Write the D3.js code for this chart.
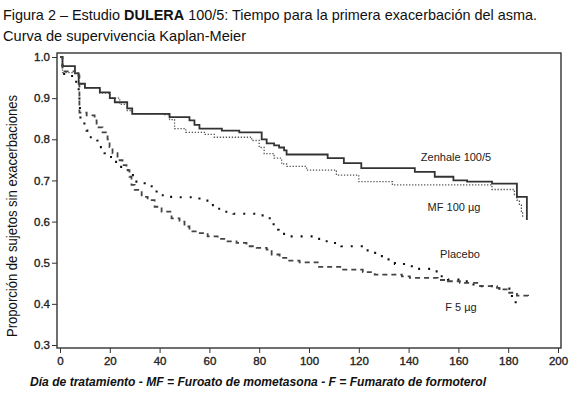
<!DOCTYPE html>
<html>
<head>
<meta charset="utf-8">
<script src="https://cdn.jsdelivr.net/npm/d3@7"></script>
<style>
body { margin: 0; background: #fff; }
svg { display: block; }
</style>
</head>
<body>
<svg width="574" height="396"></svg>
<script>
// Kaplan-Meier steps: day of event, survival after it
var zenDays = [0, 1, 6, 7.5, 10, 16, 20, 22, 27, 29, 44, 52, 54, 56, 65, 72, 81, 83, 86, 88, 90, 91, 107.5, 114, 121, 142.5, 150.5, 158, 163.5, 173.5, 183.5, 187.5]
var zenSurv = [1.0, 0.978, 0.96, 0.935, 0.925, 0.914, 0.90, 0.89, 0.875, 0.862, 0.854, 0.846, 0.835, 0.826, 0.821, 0.817, 0.80, 0.79, 0.785, 0.78, 0.773, 0.763, 0.754, 0.742, 0.73, 0.721, 0.709, 0.70, 0.697, 0.692, 0.66, 0.604]

var mfDays = [0, 1, 7.5, 10, 16, 20, 24, 27, 29, 42, 44, 46, 50.5, 58, 62, 77, 80, 82, 86, 89, 91, 99, 111, 120, 133.5, 173.5, 182.5, 183.5, 184.5, 185.3, 185.8]
var mfSurv = [1.0, 0.962, 0.935, 0.925, 0.912, 0.90, 0.885, 0.87, 0.862, 0.86, 0.848, 0.826, 0.817, 0.812, 0.805, 0.797, 0.78, 0.765, 0.754, 0.74, 0.734, 0.725, 0.713, 0.697, 0.689, 0.678, 0.665, 0.652, 0.64, 0.625, 0.612]

var plaDays = [0, 1, 3, 6.5, 7.5, 7.8, 8, 8.2, 9.8, 10.7, 11.9, 15, 15.9, 17.9, 19.9, 21.9, 23.9, 26.7, 27.9, 30.7, 34, 36.8, 38.8, 44, 48, 56, 59.7, 62.1, 65.7, 69.7, 79.4, 83, 85, 85.8, 87.8, 91.8, 101.5, 105.5, 109, 113, 121.2, 124.8, 127.6, 131.2, 134.5, 141.3, 150.5, 151.8, 155.8, 160.6, 164.6, 168.7, 175.5, 181.5, 183, 183.5]
var plaSurv = [1.0, 0.959, 0.954, 0.935, 0.906, 0.89, 0.865, 0.85, 0.833, 0.821, 0.805, 0.797, 0.781, 0.766, 0.757, 0.745, 0.733, 0.725, 0.713, 0.697, 0.686, 0.678, 0.664, 0.66, 0.659, 0.651, 0.64, 0.631, 0.624, 0.619, 0.615, 0.608, 0.596, 0.58, 0.57, 0.564, 0.558, 0.552, 0.548, 0.54, 0.53, 0.524, 0.516, 0.508, 0.497, 0.485, 0.479, 0.467, 0.459, 0.455, 0.447, 0.443, 0.437, 0.415, 0.40, 0.40]

var f5Days = [0, 1, 6, 7.8, 10.7, 13.9, 14.7, 17.1, 19.1, 19.9, 21.1, 23.1, 25.1, 26.7, 27.9, 28.7, 30, 32.8, 35.2, 38, 40.8, 44.8, 48, 50, 52, 55.3, 59.3, 63.3, 66.9, 70.9, 74.9, 79, 83, 85, 88.2, 91.4, 96.2, 103.5, 113, 121.6, 126.4, 137.3, 140.5, 151.7, 155.8, 160.6, 168.7, 175.5, 177.5, 180, 183.5, 188]
var f5Surv = [1.0, 0.965, 0.955, 0.865, 0.858, 0.846, 0.829, 0.817, 0.80, 0.781, 0.766, 0.749, 0.737, 0.725, 0.709, 0.689, 0.677, 0.66, 0.652, 0.636, 0.624, 0.608, 0.60, 0.588, 0.576, 0.572, 0.564, 0.558, 0.552, 0.548, 0.54, 0.536, 0.532, 0.52, 0.512, 0.505, 0.501, 0.49, 0.483, 0.477, 0.471, 0.467, 0.463, 0.458, 0.455, 0.451, 0.443, 0.439, 0.435, 0.427, 0.42, 0.419]

var xTicks = [0, 20, 40, 60, 80, 100, 120, 140, 160, 180, 200]
var yTicks = [0.3, 0.4, 0.5, 0.6, 0.7, 0.8, 0.9, 1.0]

var seriesNames = ['Zenhale 100/5', 'MF 100 \u00b5g', 'Placebo', 'F 5 \u00b5g']

var svg = d3.select('svg')
var narrow = "'Liberation Sans Narrow', 'Liberation Sans', Arial, sans-serif"
var sans = "'Liberation Sans', Arial, sans-serif"

var x = d3.scaleLinear().domain([0, 200]).range([60, 558])
var y = d3.scaleLinear().domain([0.3, 1.0]).range([345, 57])

// frame
svg.append('rect')
    .attr('x', 57).attr('y', 53)
    .attr('width', 504).attr('height', 295)
    .style('fill', 'none')
    .style('stroke', '#333')
    .style('stroke-width', 1.4)

var xAxis = svg.append('g')
    .attr('transform', 'translate(0,348)')
    .call(d3.axisBottom(x).tickValues(xTicks).tickSize(5).tickSizeOuter(0).tickFormat(d3.format('d')))
xAxis.select('.domain').remove()
xAxis.selectAll('line').style('stroke', '#333')
xAxis.selectAll('text')
    .attr('dy', '0.71em')
    .attr('y', 9)
    .style('font-family', sans)
    .style('font-size', '11.5px')
    .style('fill', '#222')
    .style('stroke', '#222')
    .style('stroke-width', 0.35)

var yAxis = svg.append('g')
    .attr('transform', 'translate(57,0)')
    .call(d3.axisLeft(y).tickValues(yTicks).tickSize(5).tickSizeOuter(0).tickFormat(d3.format('.1f')))
yAxis.select('.domain').remove()
yAxis.selectAll('line').style('stroke', '#333')
yAxis.selectAll('text')
    .attr('x', -7)
    .style('font-family', sans)
    .style('font-size', '11.5px')
    .style('fill', '#222')
    .style('stroke', '#222')
    .style('stroke-width', 0.35)

function km(days, surv) {
    return d3.line()
        .x(function(d, i) { return x(days[i]) })
        .y(function(d, i) { return y(surv[i]) })
        .curve(d3.curveStepAfter)(days)
}

svg.append('path')
    .attr('d', km(mfDays, mfSurv))
    .style('fill', 'none')
    .style('stroke', '#555')
    .style('stroke-width', 1.3)
    .style('stroke-dasharray', '1.3,1.7')

svg.append('path')
    .attr('d', km(zenDays, zenSurv))
    .style('fill', 'none')
    .style('stroke', '#333')
    .style('stroke-width', 1.8)

svg.append('path')
    .attr('d', km(plaDays, plaSurv))
    .style('fill', 'none')
    .style('stroke', '#111')
    .style('stroke-width', 2.1)
    .style('stroke-dasharray', '2,8')

svg.append('path')
    .attr('d', km(f5Days, f5Surv))
    .style('fill', 'none')
    .style('stroke', '#444')
    .style('stroke-width', 1.8)
    .style('stroke-dasharray', '5,4')

// curve labels
var labelPos = [[456, 161], [454, 211], [460, 258], [461, 311]]
svg.selectAll('.lab')
    .data(seriesNames)
    .enter()
    .append('text')
    .attr('class', 'lab')
    .attr('x', function(d, i) { return labelPos[i][0] })
    .attr('y', function(d, i) { return labelPos[i][1] })
    .attr('text-anchor', 'middle')
    .style('font-family', sans)
    .style('font-size', '11px')
    .style('fill', '#222')
    .text(function(d) { return d })

// titles
var t1 = svg.append('text')
    .attr('x', 3).attr('y', 20)
    .attr('textLength', 534)
    .attr('lengthAdjust', 'spacingAndGlyphs')
    .style('font-family', narrow)
    .style('font-size', '14.5px')
    .style('fill', '#111')
t1.append('tspan').text('Figura 2 \u2013 Estudio ')
t1.append('tspan').style('font-weight', 'bold').text('DULERA')
t1.append('tspan').text(' 100/5: Tiempo para la primera exacerbaci\u00f3n del asma.')

svg.append('text')
    .attr('x', 3).attr('y', 41)
    .attr('textLength', 243)
    .attr('lengthAdjust', 'spacingAndGlyphs')
    .style('font-family', narrow)
    .style('font-size', '14.5px')
    .style('fill', '#111')
    .text('Curva de supervivencia Kaplan-Meier')

svg.append('text')
    .attr('transform', 'translate(17,216) rotate(-90)')
    .attr('text-anchor', 'middle')
    .attr('textLength', 242)
    .attr('lengthAdjust', 'spacingAndGlyphs')
    .style('font-family', narrow)
    .style('font-size', '14px')
    .style('fill', '#111')
    .text('Proporci\u00f3n de sujetos sin exacerbaciones')

svg.append('text')
    .attr('x', 30).attr('y', 386)
    .attr('textLength', 456)
    .attr('lengthAdjust', 'spacingAndGlyphs')
    .style('font-family', narrow)
    .style('font-size', '12.5px')
    .style('font-weight', 'bold')
    .style('font-style', 'italic')
    .style('fill', '#111')
    .text('D\u00eda de tratamiento - MF = Furoato de mometasona - F = Fumarato de formoterol')
</script>
</body>
</html>
